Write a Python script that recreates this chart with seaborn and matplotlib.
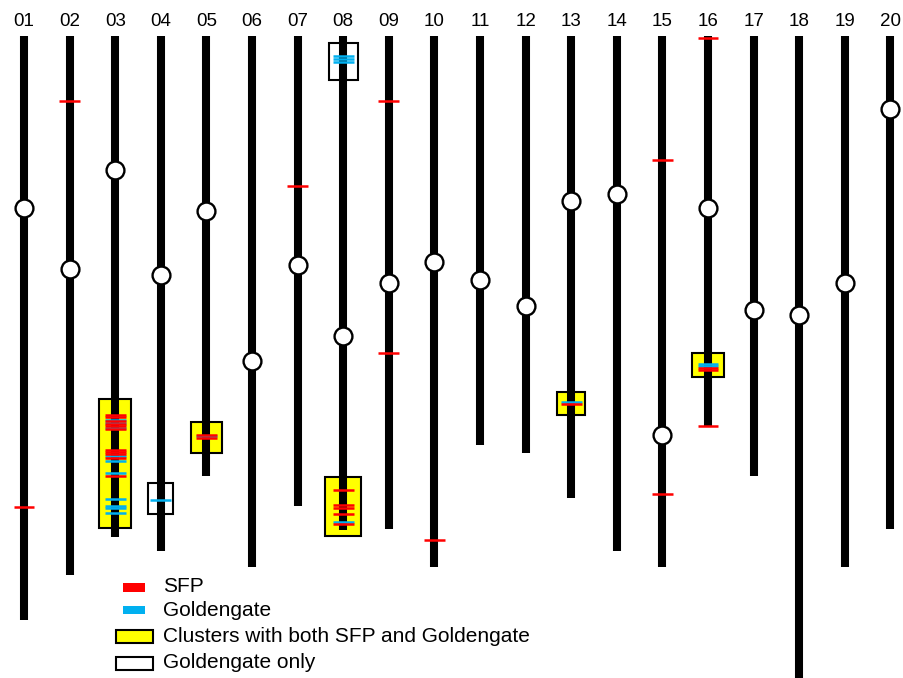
import matplotlib

matplotlib.use("Agg")
import matplotlib.pyplot as plt
import numpy as np
import pandas as pd
import seaborn as sns
from matplotlib.patches import Rectangle

# chromosome extents (position units, top = 0) and centromere positions
chrom_labels = [f"{i:02d}" for i in range(1, 21)]
chrom_top = [36] * 20
chrom_bottom = [620, 575, 537, 551, 476, 567, 506, 530, 529, 567,
                445, 453, 498, 551, 567, 427, 476, 678, 567, 529]
centromere = [208, 269, 170, 275, 211, 361, 265, 336, 283, 262,
              280, 306, 201, 194, 435, 208, 310, 315, 283, 109]

# SFP markers (chromosome, position)
sfp_chrom = [1, 2, 7, 9, 9, 10, 15, 15, 16, 16,
             3, 3, 3, 3, 3, 3, 3, 3, 3, 3, 3,
             5, 5, 8, 8, 8, 8, 8, 13, 16, 16]
sfp_pos = [507, 101, 186, 101, 353, 540, 160, 494, 38, 426,
           415, 417, 421, 424, 426, 429, 450, 452, 454, 458, 476,
           435, 438, 490, 505, 508, 514, 524, 404, 368, 370]

# Goldengate markers (chromosome, position)
gg_chrom = [3, 3, 3, 3, 3, 3, 3, 3, 3, 3,
            4, 5, 8, 8, 8, 8, 13, 16, 16]
gg_pos = [420, 423, 428, 456, 461, 473, 499, 506, 508, 513,
          500, 436, 56, 59, 62, 522, 402, 364, 366]

# marker clusters: chromosome, top, bottom, kind
box_chrom = [3, 4, 5, 8, 8, 13, 16]
box_top = [399, 483, 422, 43, 477, 392, 353]
box_bottom = [528, 514, 453, 80, 536, 415, 377]
box_kind = ["both", "gg", "both", "gg", "both", "both", "both"]
box_half = [0.35, 0.27, 0.34, 0.32, 0.40, 0.31, 0.35]

RED = "#FF0000"
BLUE = "#00B0F0"
YELLOW = "#FFFF00"

sns.set_theme(style="white")
plt.rcParams["font.family"] = ["Liberation Sans", "DejaVu Sans"]
plt.rcParams["text.color"] = "black"

fig = plt.figure(figsize=(9.04, 6.78), dpi=100)
ax = fig.add_axes([0, 0, 1, 1])
ax.set_xlim(1 - 24 / 45.6, 1 + 880 / 45.6)
ax.set_ylim(678, 0)
ax.axis("off")

xs = np.arange(1, 21)
ax.vlines(xs, chrom_top, chrom_bottom, color="black", lw=5.8, zorder=2)

for c, t, b, k, h in zip(box_chrom, box_top, box_bottom, box_kind, box_half):
    face = YELLOW if k == "both" else "white"
    ax.add_patch(Rectangle((c - h, t), 2 * h, b - t, facecolor=face,
                           edgecolor="black", lw=1.5, zorder=1))

ax.hlines(gg_pos, np.array(gg_chrom) - 0.23, np.array(gg_chrom) + 0.23,
          color=BLUE, lw=1.8, zorder=3)
ax.hlines(sfp_pos, np.array(sfp_chrom) - 0.23, np.array(sfp_chrom) + 0.23,
          color=RED, lw=1.8, zorder=3)

cen = pd.DataFrame({"chrom": xs, "pos": centromere})
sns.scatterplot(data=cen, x="chrom", y="pos", ax=ax, s=165, color="white",
                edgecolor="black", linewidth=1.7, zorder=4, legend=False)

for x, lab in zip(xs, chrom_labels):
    ax.text(x, 22, lab, ha="center", va="center", fontsize=13.5,
            family=["Liberation Sans Narrow", "Liberation Sans", "DejaVu Sans"])

# legend, drawn by hand to match the original layout
def px(x, y):
    return x / 904, 1 - y / 678

def legend_box(x0, y0, x1, y1, face, edge, lw):
    fx0, fy1 = px(x0, y0)
    fx1, fy0 = px(x1, y1)
    fig.patches.append(Rectangle((fx0, fy0), fx1 - fx0, fy1 - fy0, transform=fig.transFigure,
                                 facecolor=face, edgecolor=edge, lw=lw))

legend_box(123, 583, 145, 592, RED, "none", 0)
legend_box(123, 606, 145, 614, BLUE, "none", 0)
legend_box(116, 630, 153, 643, YELLOW, "black", 1.5)
legend_box(116, 657, 153, 670, "white", "black", 1.5)
for y, s in [(587, "SFP"), (610, "Goldengate"),
             (636, "Clusters with both SFP and Goldengate"), (662, "Goldengate only")]:
    fig.text(*px(163, y), s, ha="left", va="center", fontsize=15)

fig.savefig("out.png", dpi=100)
